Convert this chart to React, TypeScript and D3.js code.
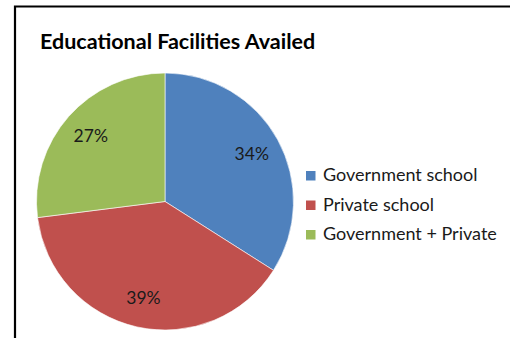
import React from "react";
import * as d3 from "d3";

const categories = ["Government school", "Private school", "Government + Private"];
const values = [34, 39, 27];
const colors = ["#4F81BD", "#C0504D", "#9BBB59"];
const title = "Educational Facilities Availed";

export default function App() {
  const width = 510;
  const height = 338;
  const cx = 165;
  const cy = 201.5;
  const r = 128.5;
  const labelR = 99;

  const pie = d3.pie<number>().sort(null).value((d) => d).startAngle(0).endAngle(2 * Math.PI);
  const arcs = pie(values);
  const arc = d3.arc<d3.PieArcDatum<number>>().innerRadius(0).outerRadius(r);
  const labelArc = d3.arc<d3.PieArcDatum<number>>().innerRadius(labelR).outerRadius(labelR);
  const total = d3.sum(values);
  const legendY = d3.scalePoint<string>().domain(categories).range([175.5, 234.5]);

  return (
    <svg
      width={width}
      height={height}
      style={{ position: "absolute", left: 0, top: 0, fontFamily: "Lato, 'Open Sans', sans-serif" }}
    >
      <rect x={0} y={0} width={width} height={height} fill="#fff" />
      <path d={`M15,${height + 5} L15,6.5 L${width + 5},6.5`} fill="none" stroke="#000" strokeWidth={2.2} />
      <text x={40} y={48.5} fontSize={21.5} fontWeight="bold" fill="#000">
        {title}
      </text>
      <g transform={`translate(${cx},${cy})`}>
        {arcs.map((a, i) => (
          <path key={i} d={arc(a) || ""} fill={colors[i]} stroke="#fff" strokeWidth={0.6} />
        ))}
        {arcs.map((a, i) => {
          const [x, y] = labelArc.centroid(a);
          return (
            <text key={i} x={x} y={y} textAnchor="middle" dy="0.35em" fontSize={17.5} fill="#1a1a1a">
              {`${Math.round((values[i] / total) * 100)}%`}
            </text>
          );
        })}
      </g>
      {categories.map((c, i) => (
        <g key={c} transform={`translate(306,${legendY(c)})`}>
          <rect x={0} y={-4.5} width={9.5} height={9.5} fill={colors[i]} />
          <text x={17} y={5.5} fontSize={18} fill="#1a1a1a">
            {c}
          </text>
        </g>
      ))}
    </svg>
  );
}
